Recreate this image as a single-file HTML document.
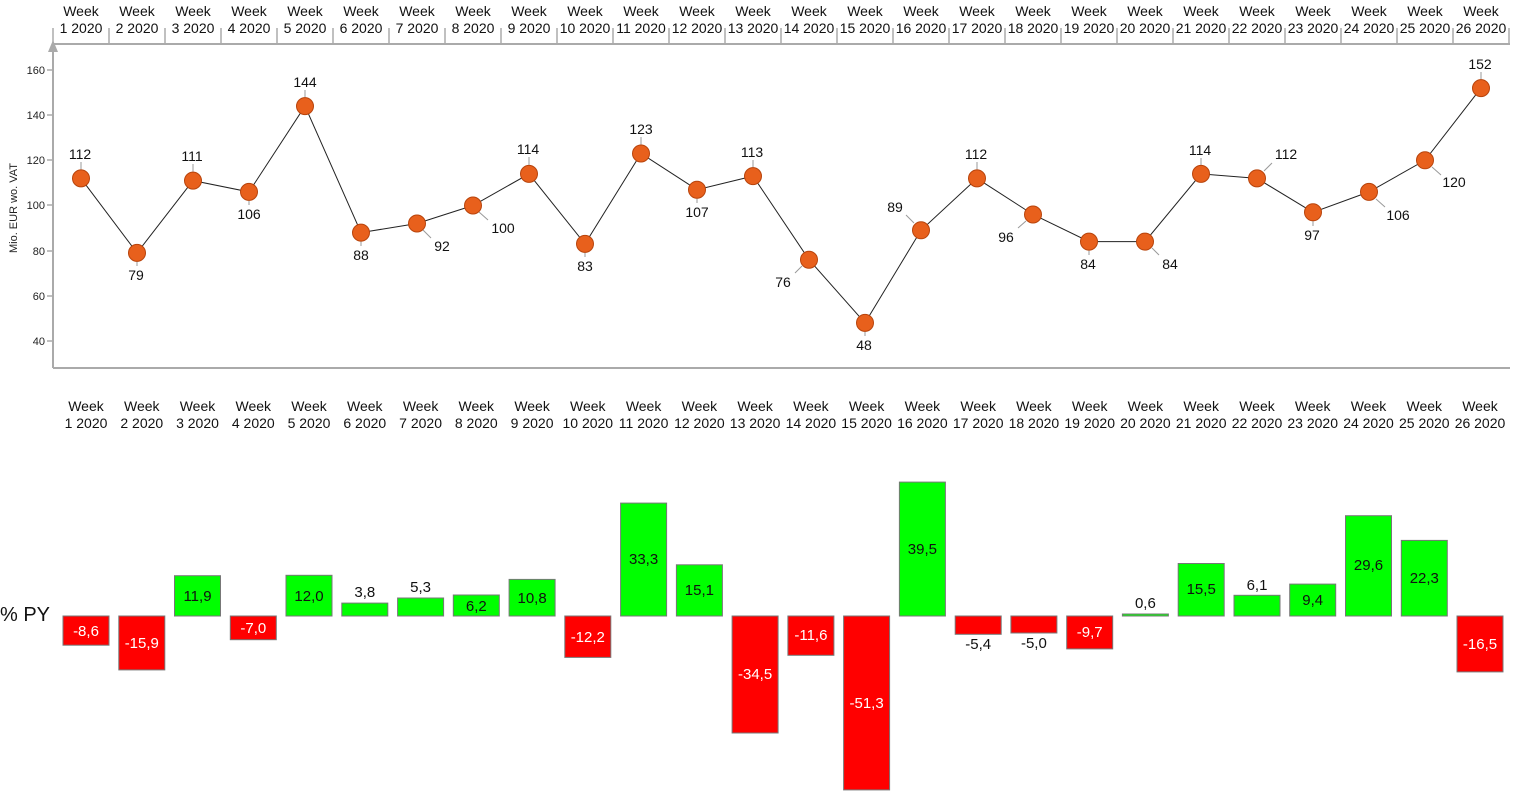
<!DOCTYPE html>
<html><head><meta charset="utf-8"><style>
html,body{margin:0;padding:0;background:#fff;}
svg{display:block;font-family:"Liberation Sans",Arial,sans-serif;}
</style></head><body>
<svg width="1518" height="798" viewBox="0 0 1518 798" xmlns="http://www.w3.org/2000/svg">
<!-- top axis -->
<g stroke="#aaa" stroke-width="2" fill="none">
<line x1="53" y1="44" x2="1510" y2="44"/>
<line x1="53" y1="50" x2="53" y2="368"/>
<line x1="53" y1="368" x2="1510" y2="368"/>
</g>
<polygon points="53,40 48,52 58,52" fill="#aaa"/>
<g stroke="#aaa" stroke-width="1.5">
<line x1="53" y1="28" x2="53" y2="44"/><line x1="109" y1="28" x2="109" y2="44"/><line x1="165" y1="28" x2="165" y2="44"/><line x1="221" y1="28" x2="221" y2="44"/><line x1="277" y1="28" x2="277" y2="44"/><line x1="333" y1="28" x2="333" y2="44"/><line x1="389" y1="28" x2="389" y2="44"/><line x1="445" y1="28" x2="445" y2="44"/><line x1="501" y1="28" x2="501" y2="44"/><line x1="557" y1="28" x2="557" y2="44"/><line x1="613" y1="28" x2="613" y2="44"/><line x1="669" y1="28" x2="669" y2="44"/><line x1="725" y1="28" x2="725" y2="44"/><line x1="781" y1="28" x2="781" y2="44"/><line x1="837" y1="28" x2="837" y2="44"/><line x1="893" y1="28" x2="893" y2="44"/><line x1="949" y1="28" x2="949" y2="44"/><line x1="1005" y1="28" x2="1005" y2="44"/><line x1="1061" y1="28" x2="1061" y2="44"/><line x1="1117" y1="28" x2="1117" y2="44"/><line x1="1173" y1="28" x2="1173" y2="44"/><line x1="1229" y1="28" x2="1229" y2="44"/><line x1="1285" y1="28" x2="1285" y2="44"/><line x1="1341" y1="28" x2="1341" y2="44"/><line x1="1397" y1="28" x2="1397" y2="44"/><line x1="1453" y1="28" x2="1453" y2="44"/><line x1="1509" y1="28" x2="1509" y2="44"/>
<line x1="47" y1="70" x2="53" y2="70"/><line x1="47" y1="115" x2="53" y2="115"/><line x1="47" y1="160" x2="53" y2="160"/><line x1="47" y1="205" x2="53" y2="205"/><line x1="47" y1="251" x2="53" y2="251"/><line x1="47" y1="296" x2="53" y2="296"/><line x1="47" y1="341" x2="53" y2="341"/>
</g>
<g font-size="11" fill="#222" text-anchor="end">
<text x="45" y="74">160</text><text x="45" y="119">140</text><text x="45" y="164">120</text><text x="45" y="209">100</text><text x="45" y="255">80</text><text x="45" y="300">60</text><text x="45" y="345">40</text>
</g>
<text transform="translate(17,208) rotate(-90)" font-size="11" fill="#222" text-anchor="middle">Mio.  EUR wo. VAT</text>
<g font-size="14" fill="#111" text-anchor="middle">
<text x="81" y="16">Week</text><text x="81" y="33">1 2020</text>
<text x="137" y="16">Week</text><text x="137" y="33">2 2020</text>
<text x="193" y="16">Week</text><text x="193" y="33">3 2020</text>
<text x="249" y="16">Week</text><text x="249" y="33">4 2020</text>
<text x="305" y="16">Week</text><text x="305" y="33">5 2020</text>
<text x="361" y="16">Week</text><text x="361" y="33">6 2020</text>
<text x="417" y="16">Week</text><text x="417" y="33">7 2020</text>
<text x="473" y="16">Week</text><text x="473" y="33">8 2020</text>
<text x="529" y="16">Week</text><text x="529" y="33">9 2020</text>
<text x="585" y="16">Week</text><text x="585" y="33">10 2020</text>
<text x="641" y="16">Week</text><text x="641" y="33">11 2020</text>
<text x="697" y="16">Week</text><text x="697" y="33">12 2020</text>
<text x="753" y="16">Week</text><text x="753" y="33">13 2020</text>
<text x="809" y="16">Week</text><text x="809" y="33">14 2020</text>
<text x="865" y="16">Week</text><text x="865" y="33">15 2020</text>
<text x="921" y="16">Week</text><text x="921" y="33">16 2020</text>
<text x="977" y="16">Week</text><text x="977" y="33">17 2020</text>
<text x="1033" y="16">Week</text><text x="1033" y="33">18 2020</text>
<text x="1089" y="16">Week</text><text x="1089" y="33">19 2020</text>
<text x="1145" y="16">Week</text><text x="1145" y="33">20 2020</text>
<text x="1201" y="16">Week</text><text x="1201" y="33">21 2020</text>
<text x="1257" y="16">Week</text><text x="1257" y="33">22 2020</text>
<text x="1313" y="16">Week</text><text x="1313" y="33">23 2020</text>
<text x="1369" y="16">Week</text><text x="1369" y="33">24 2020</text>
<text x="1425" y="16">Week</text><text x="1425" y="33">25 2020</text>
<text x="1481" y="16">Week</text><text x="1481" y="33">26 2020</text>
</g>
<!-- line -->
<polyline fill="none" stroke="#222" stroke-width="1" points="81,178.4 137,252.9 193,180.6 249,191.9 305,106.1 361,232.6 417,223.5 473,205.5 529,173.9 585,243.9 641,153.5 697,189.7 753,176.1 809,259.7 865,322.9 921,230.3 977,178.4 1033,214.5 1089,241.6 1145,241.6 1201,173.9 1257,178.4 1313,212.3 1369,191.9 1425,160.3 1481,88.1"/>
<!-- leaders -->
<g stroke="#999" stroke-width="1">
<line x1="81" y1="162" x2="81" y2="170"/><line x1="137" y1="261" x2="137" y2="266"/><line x1="193" y1="164" x2="193" y2="172"/><line x1="249" y1="200" x2="249" y2="205"/><line x1="305" y1="90" x2="305" y2="98"/><line x1="361" y1="241" x2="361" y2="246"/>
<line x1="423" y1="230" x2="431" y2="238"/><line x1="479" y1="212" x2="488" y2="220"/><line x1="529" y1="157" x2="529" y2="165"/><line x1="585" y1="252" x2="585" y2="257"/><line x1="641" y1="137" x2="641" y2="145"/><line x1="697" y1="198" x2="697" y2="203"/><line x1="753" y1="160" x2="753" y2="168"/>
<line x1="802" y1="266" x2="795" y2="273"/><line x1="865" y1="331" x2="865" y2="336"/><line x1="914" y1="223" x2="906" y2="215"/><line x1="977" y1="162" x2="977" y2="170"/><line x1="1026" y1="221" x2="1018" y2="228"/><line x1="1089" y1="250" x2="1089" y2="255"/><line x1="1152" y1="248" x2="1159" y2="255"/><line x1="1201" y1="158" x2="1201" y2="166"/><line x1="1264" y1="171" x2="1272" y2="163"/><line x1="1313" y1="221" x2="1313" y2="226"/><line x1="1376" y1="199" x2="1385" y2="207"/><line x1="1432" y1="167" x2="1441" y2="175"/><line x1="1481" y1="72" x2="1481" y2="80"/>
</g>
<g fill="#e8601c" stroke="#b8440c" stroke-width="1">
<circle cx="81" cy="178.4" r="8.5"/><circle cx="137" cy="252.9" r="8.5"/><circle cx="193" cy="180.6" r="8.5"/><circle cx="249" cy="191.9" r="8.5"/><circle cx="305" cy="106.1" r="8.5"/><circle cx="361" cy="232.6" r="8.5"/><circle cx="417" cy="223.5" r="8.5"/><circle cx="473" cy="205.5" r="8.5"/><circle cx="529" cy="173.9" r="8.5"/><circle cx="585" cy="243.9" r="8.5"/><circle cx="641" cy="153.5" r="8.5"/><circle cx="697" cy="189.7" r="8.5"/><circle cx="753" cy="176.1" r="8.5"/><circle cx="809" cy="259.7" r="8.5"/><circle cx="865" cy="322.9" r="8.5"/><circle cx="921" cy="230.3" r="8.5"/><circle cx="977" cy="178.4" r="8.5"/><circle cx="1033" cy="214.5" r="8.5"/><circle cx="1089" cy="241.6" r="8.5"/><circle cx="1145" cy="241.6" r="8.5"/><circle cx="1201" cy="173.9" r="8.5"/><circle cx="1257" cy="178.4" r="8.5"/><circle cx="1313" cy="212.3" r="8.5"/><circle cx="1369" cy="191.9" r="8.5"/><circle cx="1425" cy="160.3" r="8.5"/><circle cx="1481" cy="88.1" r="8.5"/>
</g>
<g font-size="14" fill="#111" text-anchor="middle">
<text x="80" y="159">112</text><text x="136" y="280">79</text><text x="192" y="161">111</text><text x="249" y="219">106</text><text x="305" y="87">144</text><text x="361" y="260">88</text><text x="442" y="251">92</text><text x="503" y="233">100</text><text x="528" y="154">114</text><text x="585" y="271">83</text><text x="641" y="134">123</text><text x="697" y="217">107</text><text x="752" y="157">113</text><text x="783" y="287">76</text><text x="864" y="350">48</text><text x="895" y="212">89</text><text x="976" y="159">112</text><text x="1006" y="242">96</text><text x="1088" y="269">84</text><text x="1170" y="269">84</text><text x="1200" y="155">114</text><text x="1286" y="159">112</text><text x="1312" y="240">97</text><text x="1398" y="220">106</text><text x="1454" y="187">120</text><text x="1480" y="69">152</text>
</g>
<!-- bottom labels -->
<g font-size="14" fill="#111" text-anchor="middle">
<text x="86" y="411">Week</text><text x="86" y="428">1 2020</text>
<text x="141.8" y="411">Week</text><text x="141.8" y="428">2 2020</text>
<text x="197.5" y="411">Week</text><text x="197.5" y="428">3 2020</text>
<text x="253.3" y="411">Week</text><text x="253.3" y="428">4 2020</text>
<text x="309" y="411">Week</text><text x="309" y="428">5 2020</text>
<text x="364.8" y="411">Week</text><text x="364.8" y="428">6 2020</text>
<text x="420.6" y="411">Week</text><text x="420.6" y="428">7 2020</text>
<text x="476.3" y="411">Week</text><text x="476.3" y="428">8 2020</text>
<text x="532.1" y="411">Week</text><text x="532.1" y="428">9 2020</text>
<text x="587.8" y="411">Week</text><text x="587.8" y="428">10 2020</text>
<text x="643.6" y="411">Week</text><text x="643.6" y="428">11 2020</text>
<text x="699.4" y="411">Week</text><text x="699.4" y="428">12 2020</text>
<text x="755.1" y="411">Week</text><text x="755.1" y="428">13 2020</text>
<text x="810.9" y="411">Week</text><text x="810.9" y="428">14 2020</text>
<text x="866.6" y="411">Week</text><text x="866.6" y="428">15 2020</text>
<text x="922.4" y="411">Week</text><text x="922.4" y="428">16 2020</text>
<text x="978.2" y="411">Week</text><text x="978.2" y="428">17 2020</text>
<text x="1033.9" y="411">Week</text><text x="1033.9" y="428">18 2020</text>
<text x="1089.7" y="411">Week</text><text x="1089.7" y="428">19 2020</text>
<text x="1145.4" y="411">Week</text><text x="1145.4" y="428">20 2020</text>
<text x="1201.2" y="411">Week</text><text x="1201.2" y="428">21 2020</text>
<text x="1257" y="411">Week</text><text x="1257" y="428">22 2020</text>
<text x="1312.7" y="411">Week</text><text x="1312.7" y="428">23 2020</text>
<text x="1368.5" y="411">Week</text><text x="1368.5" y="428">24 2020</text>
<text x="1424.3" y="411">Week</text><text x="1424.3" y="428">25 2020</text>
<text x="1480" y="411">Week</text><text x="1480" y="428">26 2020</text>
</g>
<text x="0" y="621" font-size="20" fill="#111">% PY</text>
<!-- bars -->
<g stroke="#777" stroke-width="1">
<rect x="63" y="616" width="46" height="29.2" fill="#f00"/>
<rect x="118.8" y="616" width="46" height="53.9" fill="#f00"/>
<rect x="174.5" y="575.7" width="46" height="40.3" fill="#0f0"/>
<rect x="230.3" y="616" width="46" height="23.7" fill="#f00"/>
<rect x="286" y="575.3" width="46" height="40.7" fill="#0f0"/>
<rect x="341.8" y="603.1" width="46" height="12.9" fill="#0f0"/>
<rect x="397.6" y="598" width="46" height="18" fill="#0f0"/>
<rect x="453.3" y="595" width="46" height="21" fill="#0f0"/>
<rect x="509.1" y="579.4" width="46" height="36.6" fill="#0f0"/>
<rect x="564.8" y="616" width="46" height="41.4" fill="#f00"/>
<rect x="620.6" y="503.1" width="46" height="112.9" fill="#0f0"/>
<rect x="676.4" y="564.8" width="46" height="51.2" fill="#0f0"/>
<rect x="732.1" y="616" width="46" height="117" fill="#f00"/>
<rect x="787.9" y="616" width="46" height="39.3" fill="#f00"/>
<rect x="843.6" y="616" width="46" height="173.9" fill="#f00"/>
<rect x="899.4" y="482.1" width="46" height="133.9" fill="#0f0"/>
<rect x="955.2" y="616" width="46" height="18.3" fill="#f00"/>
<rect x="1010.9" y="616" width="46" height="17" fill="#f00"/>
<rect x="1066.7" y="616" width="46" height="32.9" fill="#f00"/>
<rect x="1122.4" y="614" width="46" height="2" fill="#0f0"/>
<rect x="1178.2" y="563.5" width="46" height="52.5" fill="#0f0"/>
<rect x="1234" y="595.3" width="46" height="20.7" fill="#0f0"/>
<rect x="1289.7" y="584.1" width="46" height="31.9" fill="#0f0"/>
<rect x="1345.5" y="515.7" width="46" height="100.3" fill="#0f0"/>
<rect x="1401.3" y="540.4" width="46" height="75.6" fill="#0f0"/>
<rect x="1457" y="616" width="46" height="55.9" fill="#f00"/>
</g>
<g font-size="15" text-anchor="middle">
<text x="86" y="636" fill="#fff">-8,6</text>
<text x="141.8" y="648" fill="#fff">-15,9</text>
<text x="197.5" y="601" fill="#111">11,9</text>
<text x="253.3" y="633" fill="#fff">-7,0</text>
<text x="309" y="601" fill="#111">12,0</text>
<text x="364.8" y="597" fill="#111">3,8</text>
<text x="420.6" y="592" fill="#111">5,3</text>
<text x="476.3" y="611" fill="#111">6,2</text>
<text x="532.1" y="603" fill="#111">10,8</text>
<text x="587.8" y="642" fill="#fff">-12,2</text>
<text x="643.6" y="564" fill="#111">33,3</text>
<text x="699.4" y="595" fill="#111">15,1</text>
<text x="755.1" y="679" fill="#fff">-34,5</text>
<text x="810.9" y="640" fill="#fff">-11,6</text>
<text x="866.6" y="708" fill="#fff">-51,3</text>
<text x="922.4" y="554" fill="#111">39,5</text>
<text x="978.2" y="649" fill="#111">-5,4</text>
<text x="1033.9" y="648" fill="#111">-5,0</text>
<text x="1089.7" y="637" fill="#fff">-9,7</text>
<text x="1145.4" y="608" fill="#111">0,6</text>
<text x="1201.2" y="594" fill="#111">15,5</text>
<text x="1257" y="590" fill="#111">6,1</text>
<text x="1312.7" y="605" fill="#111">9,4</text>
<text x="1368.5" y="570" fill="#111">29,6</text>
<text x="1424.3" y="583" fill="#111">22,3</text>
<text x="1480" y="649" fill="#fff">-16,5</text>
</g>
</svg>
</body></html>
